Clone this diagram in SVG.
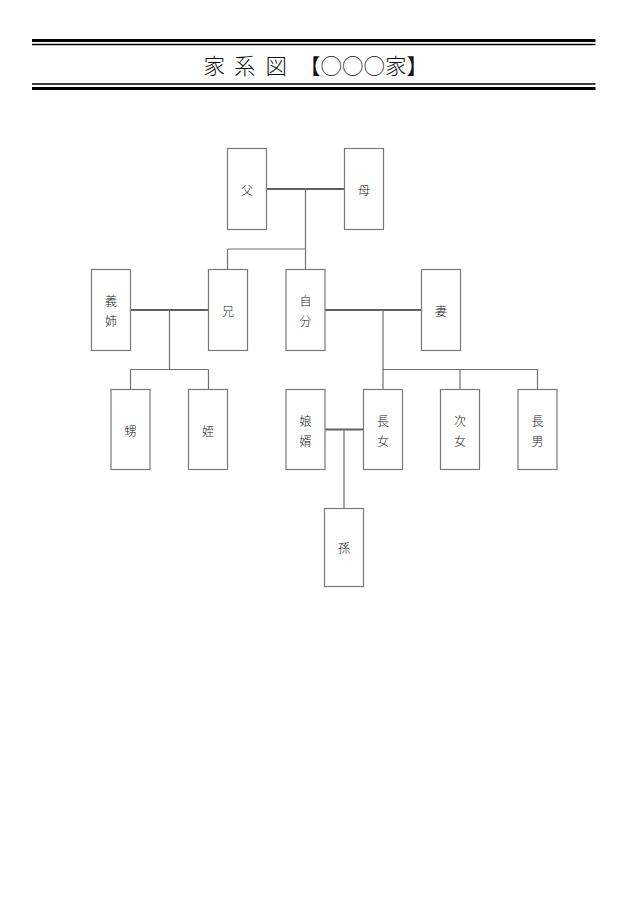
<svg xmlns="http://www.w3.org/2000/svg" width="640" height="906" viewBox="0 0 640 906">
<style>
.bg{fill:#ffffff}
.box{fill:#ffffff;stroke:#7a7a7a;stroke-width:1.2}
.lbl{font-family:"Noto Sans CJK JP","Noto Sans CJK SC",sans-serif;font-size:12px;font-weight:300;fill:#222222;text-anchor:middle;dominant-baseline:central}
.title{font-family:"Noto Sans CJK JP","Noto Sans CJK SC",sans-serif;font-size:21.5px;font-weight:300;fill:#111111}
.rule-thick{stroke:#000000;stroke-width:2.8}
.rule-thin{stroke:#000000;stroke-width:1.3}
.link{fill:none;stroke:#707070;stroke-width:1.2}
.marriage{fill:none;stroke:#606060;stroke-width:2.2}
</style>
<rect class="bg" x="0" y="0" width="640" height="906"/>
<g id="header">
<line class="rule-thick" x1="32" y1="40.5" x2="595.5" y2="40.5"/>
<line class="rule-thin" x1="32" y1="44.5" x2="595.5" y2="44.5"/>
<line class="rule-thin" x1="32" y1="84" x2="595.5" y2="84"/>
<line class="rule-thick" x1="32" y1="88.5" x2="595.5" y2="88.5"/>
<text class="title" y="73.5"><tspan x="203.5">家</tspan><tspan x="234">系</tspan><tspan x="265.5">図</tspan><tspan x="299">【○○○家】</tspan></text>
</g>
<g id="connectors">
<path class="marriage" d="M266.5 189 H344.5"/>
<path class="link" d="M305.5 189 V269.5 M227.5 249 H305.5 M227.5 249 V269.5"/>
<path class="marriage" d="M130.5 310 H208.5"/>
<path class="link" d="M169.5 310 V369.5 M130.5 369.5 H208.5 M130.5 369.5 V389.5 M208.5 369.5 V389.5"/>
<path class="marriage" d="M325 310 H421.5"/>
<path class="link" d="M383 310 V389.5 M383 369.5 H537.5 M460 369.5 V389.5 M537.5 369.5 V389.5"/>
<path class="marriage" d="M325 429.5 H363.5"/>
<path class="link" d="M344 429.5 V508.5"/>
</g>
<g id="father"><rect class="box" x="227.5" y="148.5" width="39" height="81"/><text class="lbl" x="247" y="189">父</text></g>
<g id="mother"><rect class="box" x="344.5" y="148.5" width="39" height="81"/><text class="lbl" x="364" y="189">母</text></g>
<g id="sister-in-law"><rect class="box" x="91.5" y="269.5" width="39" height="81"/><text class="lbl" x="111" y="300">義</text><text class="lbl" x="111" y="320">姉</text></g>
<g id="brother"><rect class="box" x="208.5" y="269.5" width="39" height="81"/><text class="lbl" x="228" y="310">兄</text></g>
<g id="self"><rect class="box" x="286" y="269.5" width="39" height="81"/><text class="lbl" x="305.5" y="300">自</text><text class="lbl" x="305.5" y="320">分</text></g>
<g id="wife"><rect class="box" x="421.5" y="269.5" width="39" height="81"/><text class="lbl" x="441" y="310">妻</text></g>
<g id="nephew"><rect class="box" x="111" y="389.5" width="39" height="80"/><text class="lbl" x="130.5" y="430">甥</text></g>
<g id="niece"><rect class="box" x="188.5" y="389.5" width="39" height="80"/><text class="lbl" x="208" y="430">姪</text></g>
<g id="son-in-law"><rect class="box" x="286" y="389.5" width="39" height="80"/><text class="lbl" x="305.5" y="420">娘</text><text class="lbl" x="305.5" y="440">婿</text></g>
<g id="eldest-daughter"><rect class="box" x="363.5" y="389.5" width="39" height="80"/><text class="lbl" x="383" y="420">長</text><text class="lbl" x="383" y="440">女</text></g>
<g id="second-daughter"><rect class="box" x="440.5" y="389.5" width="39" height="80"/><text class="lbl" x="460" y="420">次</text><text class="lbl" x="460" y="440">女</text></g>
<g id="eldest-son"><rect class="box" x="518" y="389.5" width="39" height="80"/><text class="lbl" x="537.5" y="420">長</text><text class="lbl" x="537.5" y="440">男</text></g>
<g id="grandchild"><rect class="box" x="324.5" y="508.5" width="39" height="78"/><text class="lbl" x="344" y="547">孫</text></g>
</svg>
